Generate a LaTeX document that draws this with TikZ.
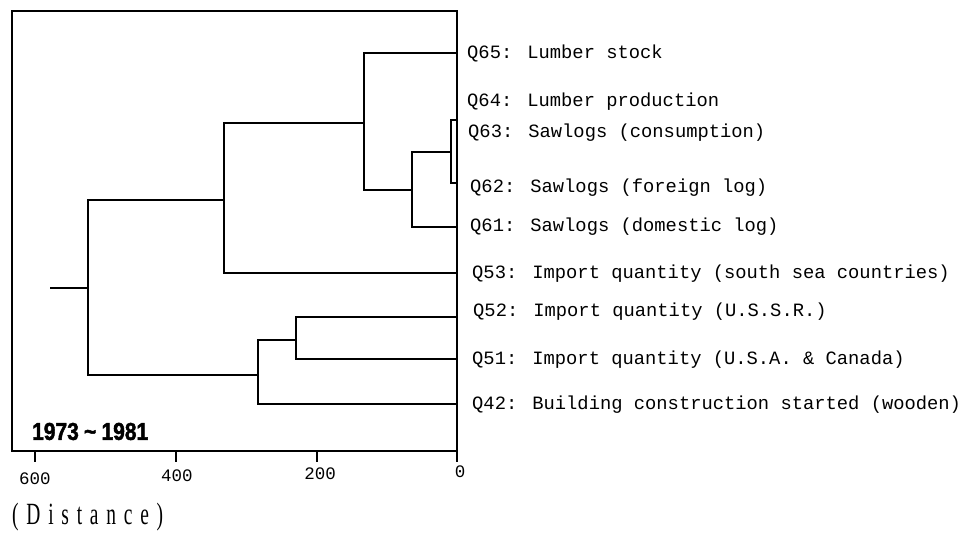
\documentclass[tikz,border=0pt]{standalone}
\usepackage{fontspec}
\setmainfont{Liberation Serif}
\newfontfamily\labfont{Liberation Mono}
\newfontfamily\yearfont[FakeBold=2]{Liberation Sans Bold}
\begin{document}
\begin{tikzpicture}[x=1pt,y=-1pt,
  tree/.style={line width=1.8pt, line join=miter},
  leaflab/.style={anchor=base west, inner sep=0pt, font=\labfont\fontsize{18.8}{21}\selectfont},
  ticklab/.style={anchor=base, inner sep=0pt, font=\labfont\fontsize{17.5}{20}\selectfont}]
\useasboundingbox (0,0) rectangle (963,535);
% frame
\draw[tree] (12,11) rectangle (457,451);
% leaf ends
\coordinate (l65) at (457,53);
\coordinate (l63) at (457,120);
\coordinate (l62) at (457,183);
\coordinate (l61) at (457,227);
\coordinate (l53) at (457,273);
\coordinate (l52) at (457,317);
\coordinate (l51) at (457,359);
\coordinate (l42) at (457,404);
% junctions
\coordinate (n1) at (451,152);
\coordinate (n2) at (412,190);
\coordinate (n3) at (364,123);
\coordinate (n4) at (224,200);
\coordinate (n5) at (296,340);
\coordinate (n6) at (258,375);
\coordinate (rt) at (88,288);
\coordinate (stub) at (50,288);
% dendrogram
\draw[tree] (l63) -| (n1) |- (l62);
\draw[tree] (n1) -| (n2) |- (l61);
\draw[tree] (l65) -| (n3) |- (n2);
\draw[tree] (n3) -| (n4) |- (l53);
\draw[tree] (l52) -| (n5) |- (l51);
\draw[tree] (n5) -| (n6) |- (l42);
\draw[tree] (n4) -| (rt) |- (n6);
\draw[tree] (stub) -- (rt);
% labels
\node[leaflab] (q65) at (467,59) {Q65: Lumber stock};
\node[leaflab] (q64) at (467,106) {Q64: Lumber production};
\node[leaflab] (q63) at (468,137) {Q63: Sawlogs (consumption)};
\node[leaflab] (q62) at (470,192) {Q62: Sawlogs (foreign log)};
\node[leaflab] (q61) at (470,231) {Q61: Sawlogs (domestic log)};
\node[leaflab] (q53) at (472,278) {Q53: Import quantity (south sea countries)};
\node[leaflab] (q52) at (473,316) {Q52: Import quantity (U.S.S.R.)};
\node[leaflab] (q51) at (472,364) {Q51: Import quantity (U.S.A. \& Canada)};
\node[leaflab] (q42) at (472,409) {Q42: Building construction started (wooden)};
% axis ticks
\coordinate (t600) at (35,451);
\coordinate (t400) at (176,451);
\coordinate (t200) at (317,451);
\coordinate (t0) at (457,451);
\foreach \t in {t600,t400,t200,t0} \draw[tree] (\t) -- ++(0,11);
\node[ticklab] (a600) at (35,484) {600};
\node[ticklab] (a400) at (177,481) {400};
\node[ticklab] (a200) at (320,479) {200};
\node[ticklab] (a0) at (460,477) {0};
% period
\node[anchor=west, inner sep=0pt] (period) at (32,431.5)
  {\resizebox{116pt}{17pt}{\yearfont 1973\hspace{0.25em}\textasciitilde\hspace{0.25em}1981}};
% distance
\node[anchor=west, inner sep=0pt] (dist) at (12,517)
  {\resizebox*{151pt}{28pt}{\addfontfeature{LetterSpace=40}(Distance)}};
\end{tikzpicture}
\end{document}
